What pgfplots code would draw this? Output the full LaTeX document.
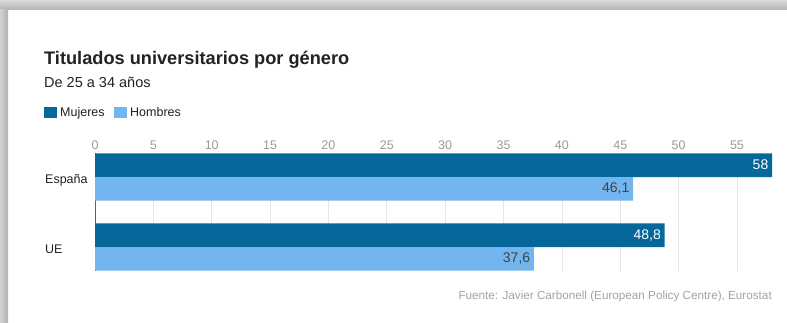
\documentclass[border=0pt]{standalone}
\usepackage{pgfplots}
\pgfplotsset{compat=1.18}
\usepackage{fontspec}
\setmainfont{Liberation Sans}
\definecolor{dark}{HTML}{05679A}
\definecolor{light}{HTML}{73B5EE}
\definecolor{gridc}{HTML}{E6E6E6}
\definecolor{tickc}{HTML}{9B9B9B}
\definecolor{txt}{HTML}{222222}
\definecolor{srcc}{HTML}{A3A3A3}
\begin{document}
\begin{tikzpicture}[x=1pt,y=1pt]
\useasboundingbox (0,0) rectangle (787,322);
\fill[white] (0,0) rectangle (787,322);
\shade[top color=gray!30, bottom color=gray!60] (0,312) rectangle (787,322);
\shade[left color=gray!35, right color=gray!60] (0,0) rectangle (8,312);
\node[anchor=base west, font=\bfseries\fontsize{18.2}{21}\selectfont, text=txt, inner sep=0] at (44,258) {Titulados universitarios por género};
\node[anchor=base west, font=\fontsize{14.5}{16}\selectfont, text=txt, inner sep=0] at (44,234) {De 25 a 34 años};
\fill[dark] (44,204.5) rectangle (57,215.5);
\node[anchor=base west, font=\fontsize{12.5}{14}\selectfont, text=txt, inner sep=0] at (60,205.5) {Mujeres};
\fill[light] (114,204.5) rectangle (127,215.5);
\node[anchor=base west, font=\fontsize{12.5}{14}\selectfont, text=txt, inner sep=0] at (130,205.5) {Hombres};
\node[anchor=base west, font=\fontsize{12.5}{14}\selectfont, text=txt, inner sep=0] at (45,139) {España};
\node[anchor=base west, font=\fontsize{12.5}{14}\selectfont, text=txt, inner sep=0] at (45,69) {UE};
\node[anchor=base east, font=\fontsize{11.7}{13}\selectfont, text=srcc, inner sep=0] at (772,22.5) {Fuente: Javier Carbonell (European Policy Centre), Eurostat};
\begin{axis}[
  at={(95pt,51.3pt)}, anchor=south west, scale only axis,
  width=677pt, height=117.4pt,
  xmin=0, xmax=58, ymin=-0.3386, ymax=1.3386,
  axis line style={draw=none},
  major tick length=0pt,
  xtick={0,5,...,55}, ytick=\empty,
  xmajorgrids, grid style={gridc, line width=0.8pt},
  extra x ticks={0}, extra x tick labels={},
  extra x tick style={grid style={draw=gray!75!black, line width=1pt}},
  xticklabel pos=upper,
  xticklabel style={text=tickc, font=\fontsize{12.5}{14}\selectfont},
  /pgf/number format/assume math mode=true,
  xbar, bar width=0.3386,
]
\addplot[xbar, bar shift=0pt, fill=dark, draw=none,
  point meta=explicit symbolic, nodes near coords, nodes near coords align={left},
  every node near coord/.append style={text=white, font=\fontsize{14}{16}\selectfont, inner sep=3.5pt}]
  coordinates {(58,1.1693)[58] (48.8,0.1693)[48,8]};
\addplot[xbar, bar shift=0pt, fill=light, draw=none,
  point meta=explicit symbolic, nodes near coords, nodes near coords align={left},
  every node near coord/.append style={text=txt!85, font=\fontsize{14}{16}\selectfont, inner sep=3.5pt}]
  coordinates {(46.1,0.8307)[46,1] (37.6,-0.1693)[37,6]};
\end{axis}
\end{tikzpicture}
\end{document}
